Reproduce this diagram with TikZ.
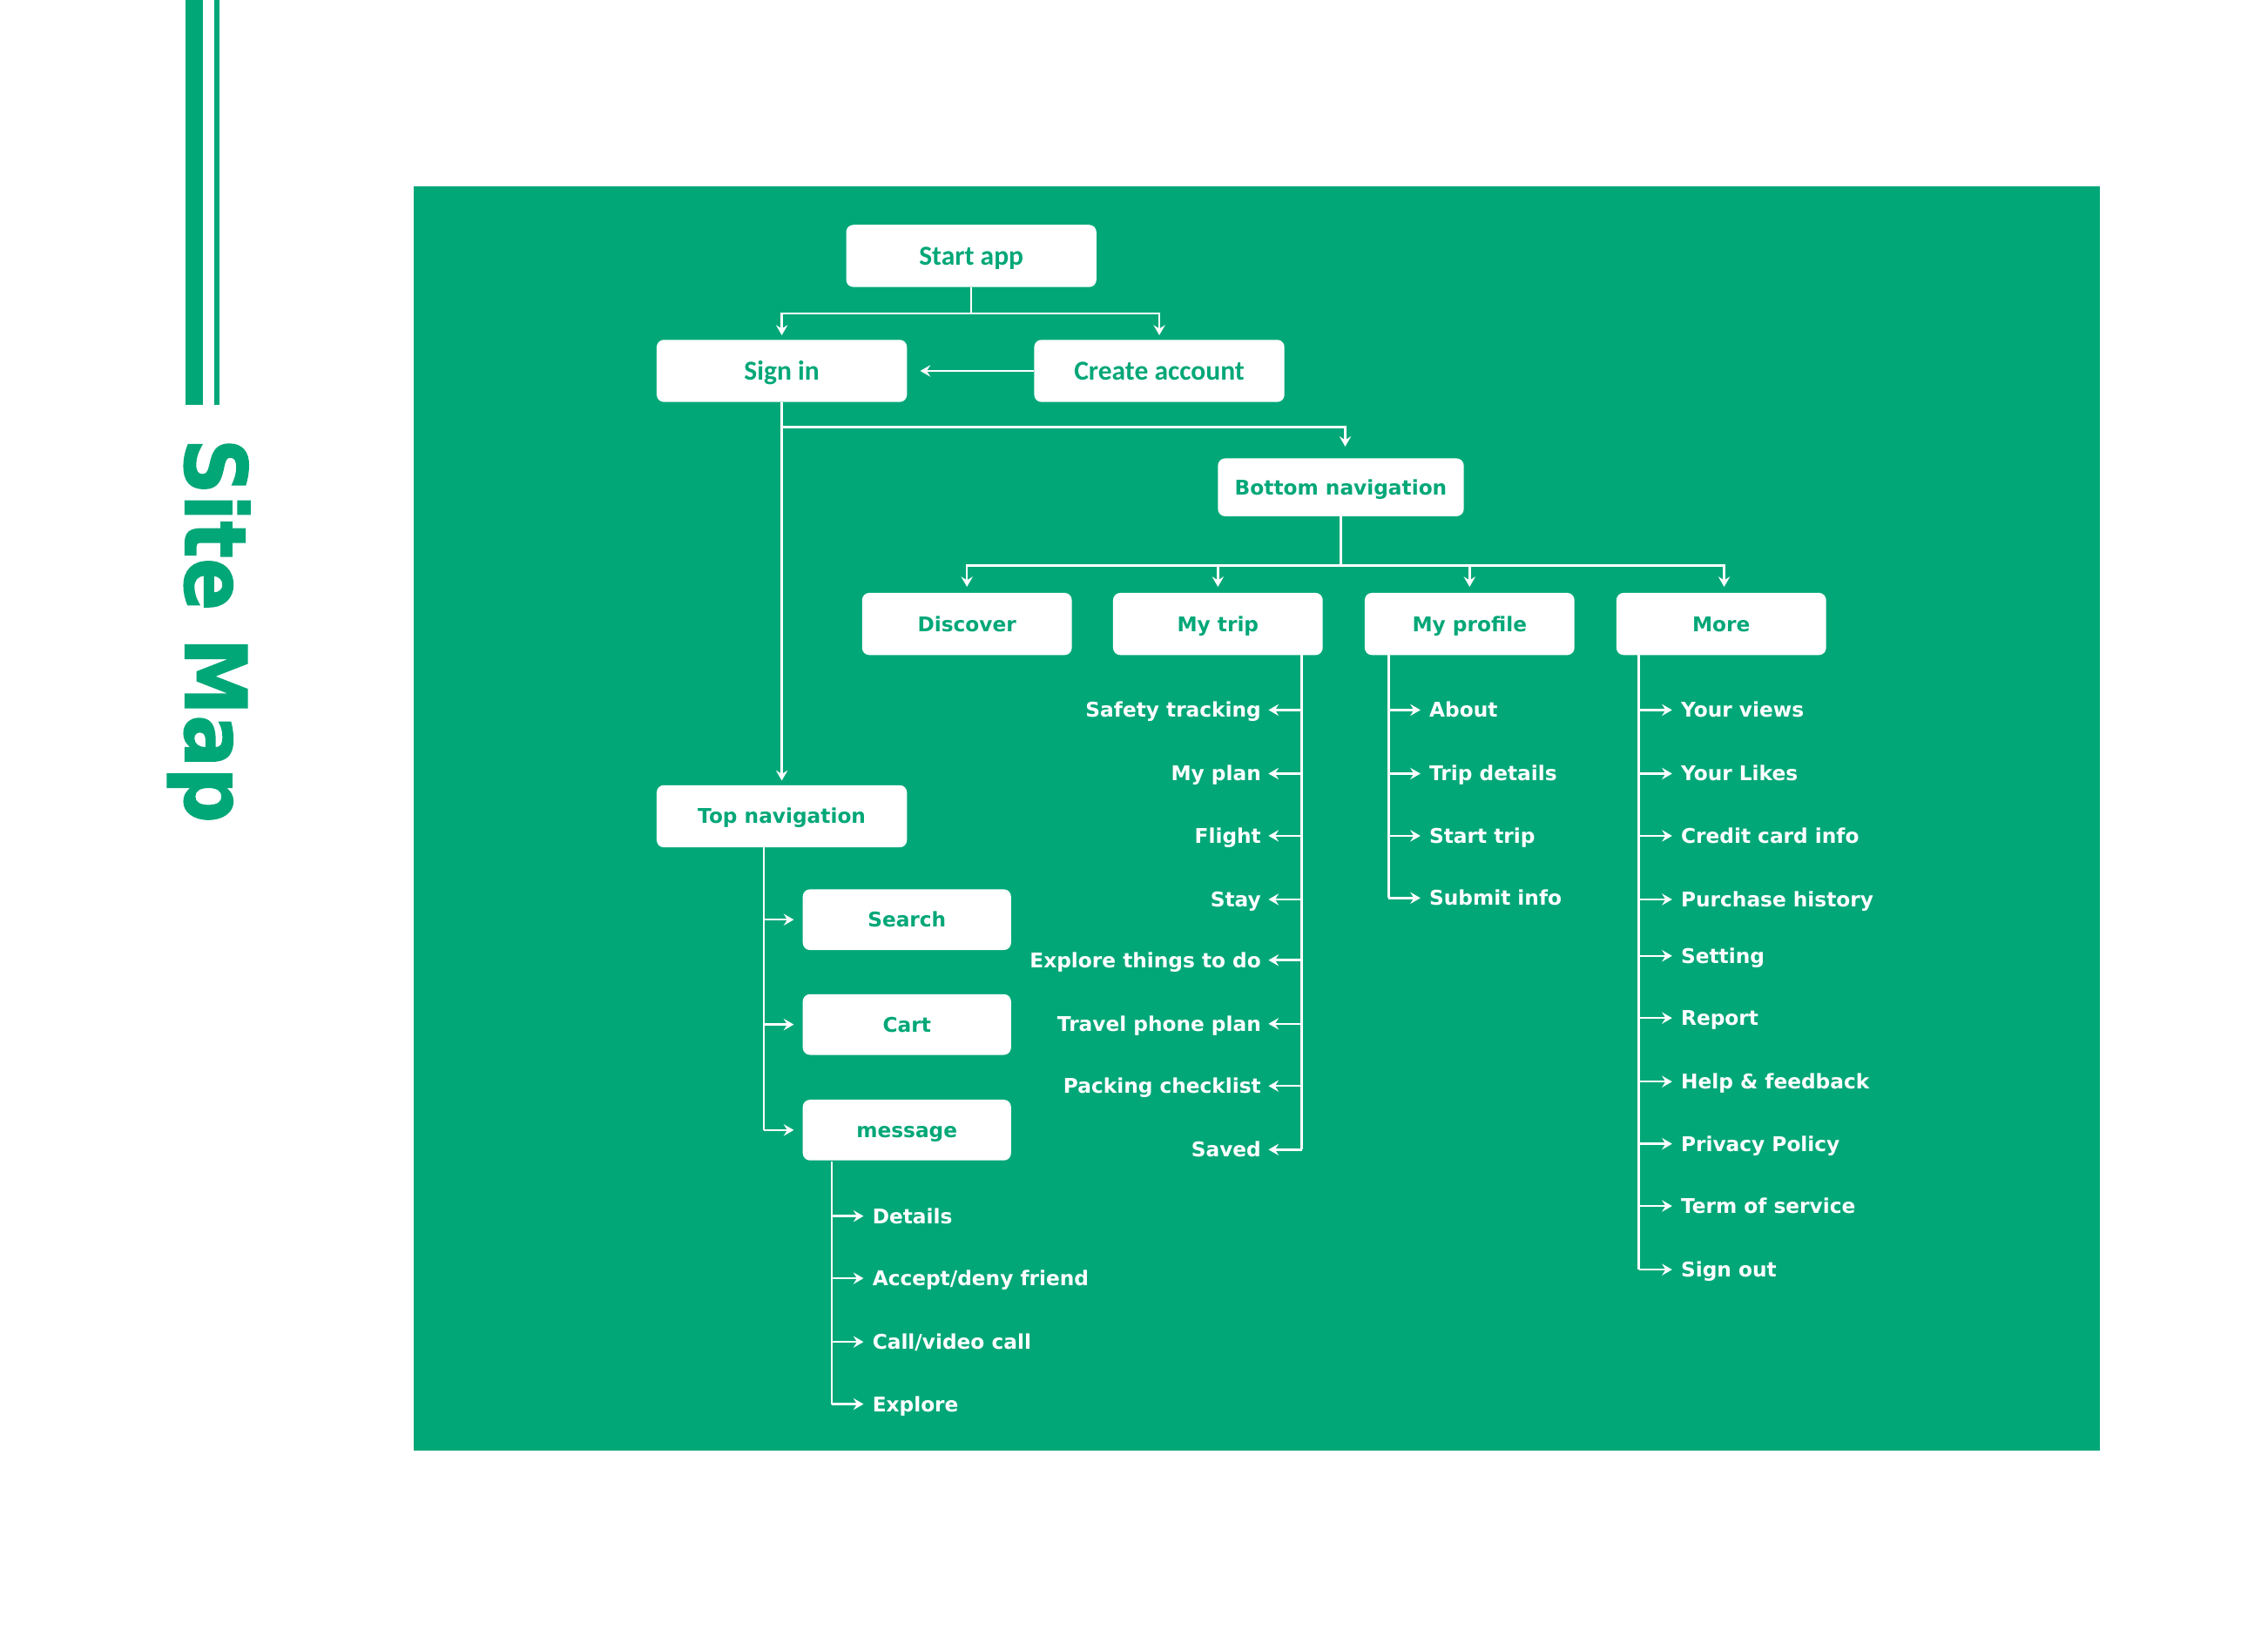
\documentclass[tikz,border=0pt]{standalone}
\usepackage{fontspec}
\setmainfont{DejaVu Sans}
\newfontfamily\calfont{Carlito}
\newfontfamily\titlefont{DejaVu Sans Bold}[FakeBold=1.5]
\usetikzlibrary{arrows.meta}
\definecolor{sgreen}{RGB}{2,167,120}
\begin{document}
\begin{tikzpicture}[x=1pt,y=-1pt,
  line/.style={white, line width=1.5pt},
  arr/.style={line, -{Stealth[length=7pt,width=8pt,inset=2.5pt]}},
  box/.style={fill=white, rounded corners=5pt, text=sgreen, font=\bfseries\fontsize{14pt}{16pt}\selectfont, text height=10.2pt, text depth=0pt, minimum height=43pt, inner sep=0pt},
  cbox/.style={box, font=\calfont\bfseries\fontsize{19pt}{22pt}\selectfont, text height=12.2pt},
  item/.style={text=white, font=\bfseries\fontsize{14pt}{16pt}\selectfont, text height=10.2pt, text depth=0pt, inner sep=0pt},
]
\useasboundingbox (0,0) rectangle (1568,1141);
\fill[white] (0,0) rectangle (1568,1141);
% left decoration
\fill[sgreen] (128,0) rectangle (140,280);
\fill[sgreen] (148,0) rectangle (152,280);
\node[rotate=-90, anchor=base west, inner sep=0pt, text=sgreen, font=\titlefont\fontsize{59pt}{60pt}\selectfont] (title) at (128,303) {\scalebox{0.91}[1]{Site Map}};
% panel
\fill[sgreen] (286,129) rectangle (1452,1003);

% boxes
\node[cbox, minimum width=173pt] (start) at (671.5,177) {Start app};
\node[cbox, minimum width=173pt] (signin) at (540.5,256.5) {Sign in};
\node[cbox, minimum width=173pt] (create) at (801.5,256.5) {Create account};
\node[box, minimum width=170pt, minimum height=40pt] (bnav) at (927,337) {Bottom navigation};
\node[box, minimum width=145pt] (disc) at (668.5,431.5) {Discover};
\node[box, minimum width=145pt] (trip) at (842,431.5) {My trip};
\node[box, minimum width=145pt] (profile) at (1016,431.5) {My profile};
\node[box, minimum width=145pt] (more) at (1190,431.5) {More};
\node[box, minimum width=173pt] (topnav) at (540.5,564.5) {Top navigation};
\node[box, minimum width=144pt, minimum height=42pt] (search) at (627,636) {Search};
\node[box, minimum width=144pt, minimum height=42pt] (cart) at (627,708.5) {Cart};
\node[box, minimum width=144pt, minimum height=42pt] (msg) at (627,781.5) {message};

% My trip items
\node[item, anchor=east] (t1) at (872,491) {Safety tracking};
\node[item, anchor=east] (t2) at (872,535) {My plan};
\node[item, anchor=east] (t3) at (872,578) {Flight};
\node[item, anchor=east] (t4) at (872,622) {Stay};
\node[item, anchor=east] (t5) at (872,664) {Explore things to do};
\node[item, anchor=east] (t6) at (872,708) {Travel phone plan};
\node[item, anchor=east] (t7) at (872,751) {Packing checklist};
\node[item, anchor=east] (t8) at (872,795) {Saved};
% My profile items
\node[item, anchor=west] (p1) at (988,491) {About};
\node[item, anchor=west] (p2) at (988,535) {Trip details};
\node[item, anchor=west] (p3) at (988,578) {Start trip};
\node[item, anchor=west] (p4) at (988,621) {Submit info};
% More items
\node[item, anchor=west] (m1) at (1162,491) {Your views};
\node[item, anchor=west] (m2) at (1162,535) {Your Likes};
\node[item, anchor=west] (m3) at (1162,578) {Credit card info};
\node[item, anchor=west] (m4) at (1162,622) {Purchase history};
\node[item, anchor=west] (m5) at (1162,661) {Setting};
\node[item, anchor=west] (m6) at (1162,704) {Report};
\node[item, anchor=west] (m7) at (1162,748) {Help \& feedback};
\node[item, anchor=west] (m8) at (1162,791) {Privacy Policy};
\node[item, anchor=west] (m9) at (1162,834) {Term of service};
\node[item, anchor=west] (m10) at (1162,878) {Sign out};
% message items
\node[item, anchor=west] (g1) at (603,841) {Details};
\node[item, anchor=west] (g2) at (603,884) {Accept/deny friend};
\node[item, anchor=west] (g3) at (603,928) {Call/video call};
\node[item, anchor=west] (g4) at (603,971) {Explore};

% connectors top
\draw[line] (start.south) -- ++(0,18) coordinate (s1);
\draw[arr, shorten >=3pt] (s1) -| (signin.north);
\draw[arr, shorten >=3pt] (s1) -| (create.north);
\draw[arr, shorten >=9pt] (create.west) -- (signin.east);
\draw[arr, shorten >=3pt] (signin.south) -- (topnav.north);
\draw[arr, shorten >=8pt] ([yshift=-17pt]signin.south) -| ([xshift=3pt]bnav.north);
\draw[line] (bnav.south) -- ++(0,34) coordinate (b1);
\draw[arr, shorten >=4pt] (b1) -| (disc.north);
\draw[arr, shorten >=4pt] (b1) -| (trip.north);
\draw[arr, shorten >=4pt] (b1) -| (profile.north);
\draw[arr, shorten >=4pt] (b1) -| ([xshift=2pt]more.north);

% My trip branch
\coordinate (mtT) at (900,453);
\draw[line] (mtT) -- (mtT |- t8.east);
\foreach \n in {t1,t2,t3,t4,t5,t6,t7,t8}
  \draw[arr, shorten >=5pt] (mtT |- \n.east) -- (\n.east);
% My profile branch
\coordinate (mpT) at (960,453);
\draw[line] (mpT) -- (mpT |- p4.west);
\foreach \n in {p1,p2,p3,p4}
  \draw[arr, shorten >=6pt] (mpT |- \n.west) -- (\n.west);
% More branch
\coordinate (moT) at (1133,453);
\draw[line] (moT) -- (moT |- m10.west);
\foreach \n in {m1,m2,m3,m4,m5,m6,m7,m8,m9,m10}
  \draw[arr, shorten >=6pt] (moT |- \n.west) -- (\n.west);
% Top navigation branch
\coordinate (tnT) at (528,586);
\draw[line] (tnT) -- (tnT |- msg.west);
\foreach \n in {search,cart,msg}
  \draw[arr, shorten >=6pt] (tnT |- \n.west) -- (\n.west);
% message branch
\coordinate (msT) at (575,803);
\draw[line] (msT) -- (msT |- g4.west);
\foreach \n in {g1,g2,g3,g4}
  \draw[arr, shorten >=6pt] (msT |- \n.west) -- (\n.west);
\end{tikzpicture}
\end{document}
